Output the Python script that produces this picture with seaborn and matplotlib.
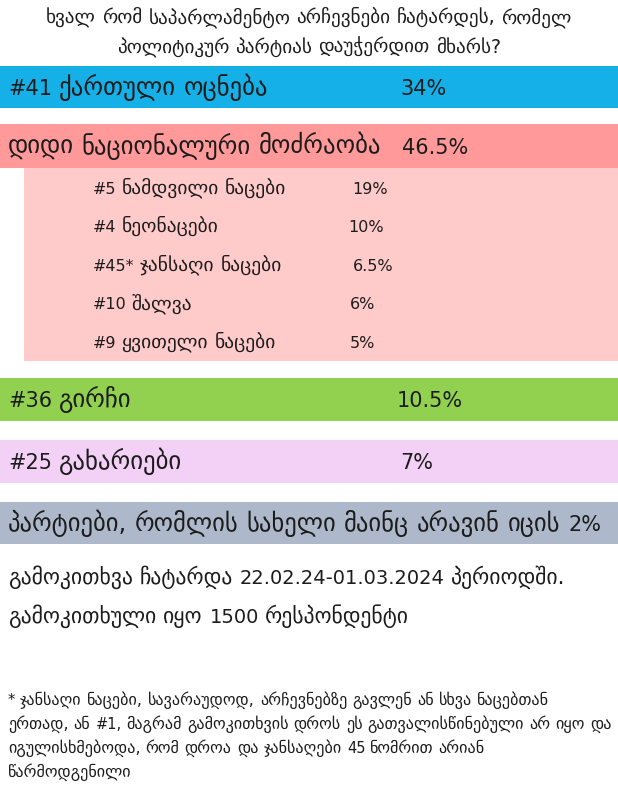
import matplotlib
matplotlib.use('Agg')
import matplotlib.pyplot as plt
from matplotlib.patches import Rectangle
import seaborn as sns

sns.set_theme(style='white')
plt.rcParams['font.family'] = ['DejaVu Sans']

# ── data
title_lines = ['ხვალ რომ საპარლამენტო არჩევნები ჩატარდეს, რომელ',
               'პოლიტიკურ პარტიას დაუჭერდით მხარს?']
main_parties = ['#41 ქართული ოცნება', 'დიდი ნაციონალური მოძრაობა', '#36 გირჩი', '#25 გახარიები']
main_values = [34, 46.5, 10.5, 7]
main_colors = ['#16b0e8', '#ff999a', '#92d050', '#f3d0f5']
sub_parties = ['#5 ნამდვილი ნაცები', '#4 ნეონაცები', '#45* ჯანსაღი ნაცები', '#10 შალვა', '#9 ყვითელი ნაცები']
sub_values = [19, 10, 6.5, 6, 5]
other_label = 'პარტიები, რომლის სახელი მაინც არავინ იცის'
other_value = 2
survey_lines = ['გამოკითხვა ჩატარდა 22.02.24-01.03.2024 პერიოდში.',
                'გამოკითხული იყო 1500 რესპონდენტი']
footnote_lines = ['* ჯანსაღი ნაცები, სავარაუდოდ, არჩევნებზე გავლენ ან სხვა ნაცებთან',
                  'ერთად, ან #1, მაგრამ გამოკითხვის დროს ეს გათვალისწინებული არ იყო და',
                  'იგულისხმებოდა, რომ დროა და ჯანსაღები 45 ნომრით არიან',
                  'წარმოდგენილი']

W, H = 618, 786
TXT = '#1c1c1c'

fig = plt.figure(figsize=(W / 100, H / 100), dpi=100)
ax = fig.add_axes([0, 0, 1, 1])
ax.set_xlim(0, W)
ax.set_ylim(H, 0)
ax.axis('off')
renderer = fig.canvas.get_renderer()


def pct(v):
    return f'{v:g}%'


def is_geo(ch):
    return '\u10a0' <= ch <= '\u10ff'


def split_runs(s):
    # Georgian letters get a bigger size than digits/latin, like the original font mix
    out = []
    for ch in s:
        if ch == ' ':
            out.append([' ', 'space'])
            continue
        kind = is_geo(ch) or (ch in ',.?' and bool(out) and out[-1][1] is True)
        if out and out[-1][1] == kind:
            out[-1][0] += ch
        else:
            out.append([ch, kind])
    return out


def mixed_text(x, yc, s, lat, geo, ha='left'):
    px = 100 / 72
    base = yc + 0.365 * lat * px
    items, widths = [], []
    prev = False
    for chunk, kind in split_runs(s):
        if kind == 'space':
            size = geo if prev else lat
            items.append(None)
            widths.append(0.318 * size * px * len(chunk))
            continue
        prev = kind
        t = ax.text(0, base, chunk, ha='left', va='baseline',
                    fontsize=geo if kind else lat, color=TXT)
        items.append(t)
        widths.append(t.get_window_extent(renderer).width)
    total = sum(widths)
    cur = x - total / 2 if ha == 'center' else x
    for t, w in zip(items, widths):
        if t is not None:
            t.set_x(cur)
        cur += w


# title
for i, line in enumerate(title_lines):
    mixed_text(W / 2, 17 + 30 * i, line, 12, 13.8, ha='center')

# main bands (top, bottom) and value x position
band_y = [(66, 108), (124, 168), (378, 421), (440, 483)]
val_x = [400, 402, 397, 400]
for name, v, c, (y0, y1), vx in zip(main_parties, main_values, main_colors, band_y, val_x):
    ax.add_patch(Rectangle((0, y0), W, y1 - y0, color=c, lw=0))
    yc = (y0 + y1) / 2
    mixed_text(8, yc, name, 15, 17.8)
    mixed_text(vx, yc, pct(v), 15, 17.8)

# sub-box for the national movement splinters
ax.add_patch(Rectangle((24, 168), W - 24, 361 - 168, color='#ffcaca', lw=0))
sub_val_x = [352, 348, 353, 350, 350]
for i, (name, v, vx) in enumerate(zip(sub_parties, sub_values, sub_val_x)):
    yc = 188 + 38.5 * i
    mixed_text(93, yc, name, 11.5, 14)
    mixed_text(vx, yc, pct(v), 11.5, 14)

# "unknown parties" band
ax.add_patch(Rectangle((0, 502), W, 42, color='#adb9ca', lw=0))
mixed_text(8, 523, f'{other_label} {pct(other_value)}', 15, 17.7)

# survey info
for i, line in enumerate(survey_lines):
    mixed_text(8, 577 + 39 * i, line, 14, 15.6)

# footnote
for i, line in enumerate(footnote_lines):
    mixed_text(8, 700 + 24 * i, line, 10.5, 11.6)

fig.savefig('out.png', dpi=100, facecolor='white')
